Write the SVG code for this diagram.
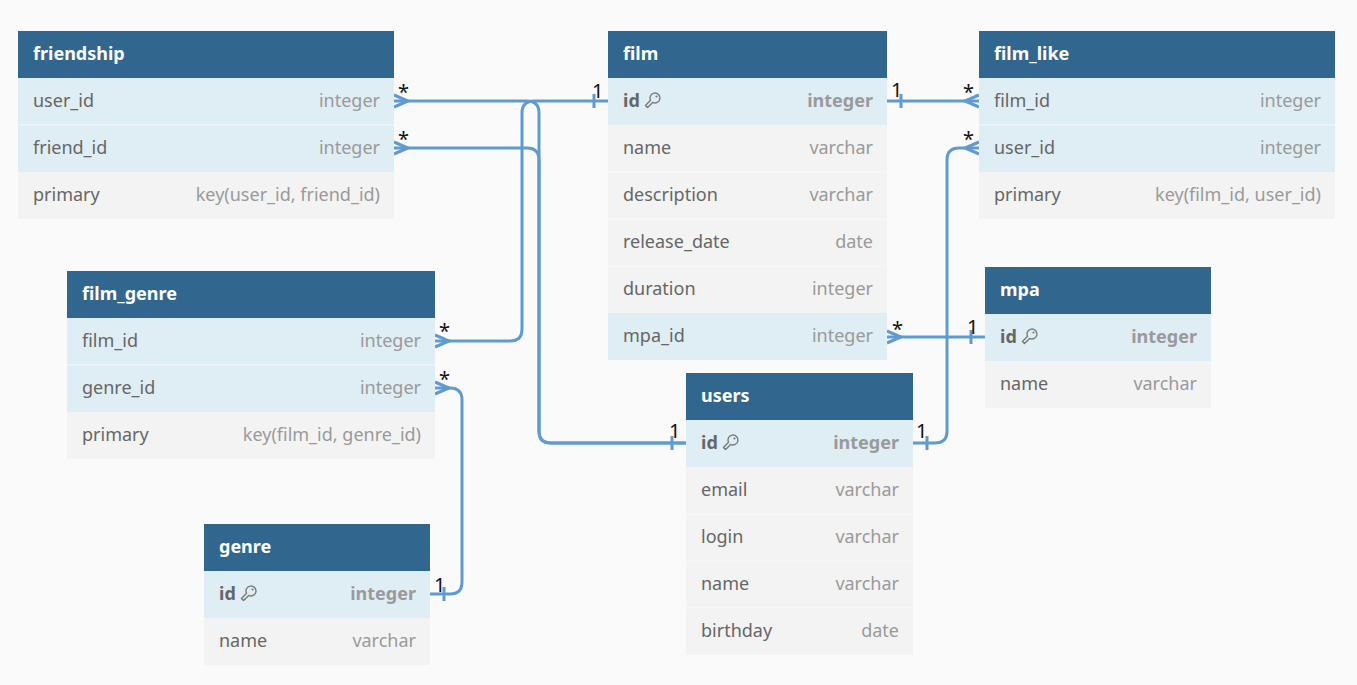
<svg xmlns="http://www.w3.org/2000/svg" xmlns:xlink="http://www.w3.org/1999/xlink" width="1357" height="685" viewBox="0 0 1357 685">
<defs>
<style>
.bg{fill:#fafafa}
.hd{fill:#31668f}
.rb{fill:#dfedf5}
.rg{fill:#f3f3f3}
.sep{stroke:#f8f8f8;stroke-width:1}
.tt{font-family:"Noto Sans","Open Sans",sans-serif;font-size:18px;font-weight:bold;fill:#ffffff}
.fn{font-family:"Noto Sans","Open Sans",sans-serif;font-size:18px;fill:#666666}
.ft{font-family:"Noto Sans","Open Sans",sans-serif;font-size:18px;fill:#9a9a9a;text-anchor:end}
.pk{font-weight:bold}
.ln{fill:none;stroke:#5f9bd0;stroke-width:3}
.lb{font-family:"Noto Sans","Open Sans",sans-serif;font-size:20px;fill:#111111}
.key{fill:none;stroke:#7a7a7a;stroke-width:1.4;stroke-linejoin:round}
</style>
<g id="keyicon">
<path class="key" d="M5.54,8.34 A5,5 0 1 1 7.66,10.46 L2.56,15.56 L0.44,13.44 Z"/>
<circle cx="11.5" cy="4.5" r="1.1" fill="#7a7a7a"/>
</g>
</defs>
<rect class="bg" x="0" y="0" width="1357" height="685"/>

<g id="connectors">
<path class="ln" d="M394,101 H527 Q539,101 539,113 V431 Q539,443 551,443 H686"/>
<path class="ln" d="M394,148 H527 Q539,148 539,160 V431 Q539,443 551,443 H686"/>
<path class="ln" d="M435,341 H510 Q522,341 522,329 V113 Q522,101 534,101 H608"/>
<path class="ln" d="M887,101 H979"/>
<path class="ln" d="M913,443 H935 Q947,443 947,431 V160 Q947,148 959,148 H979"/>
<path class="ln" d="M887,337 H985"/>
<path class="ln" d="M435,388 H450 Q462,388 462,400 V582 Q462,594 450,594 H430"/>
<path class="ln" d="M394,95 L408,101 L394,107"/>
<path class="ln" d="M394,142 L408,148 L394,154"/>
<path class="ln" d="M435,335 L449,341 L435,347"/>
<path class="ln" d="M435,382 L449,388 L435,394"/>
<path class="ln" d="M979,95 L965,101 L979,107"/>
<path class="ln" d="M979,142 L965,148 L979,154"/>
<path class="ln" d="M887,331 L901,337 L887,343"/>
<path class="ln" d="M594,94 V108"/>
<path class="ln" d="M901,94 V108"/>
<path class="ln" d="M672,436 V450"/>
<path class="ln" d="M927,436 V450"/>
<path class="ln" d="M971,330 V344"/>
<path class="ln" d="M444,587 V601"/>
<text class="lb" x="398" y="99">*</text>
<text class="lb" x="398" y="146">*</text>
<text class="lb" x="592" y="98">1</text>
<text class="lb" x="891" y="97">1</text>
<text class="lb" x="963" y="99">*</text>
<text class="lb" x="963" y="146">*</text>
<text class="lb" x="892" y="336">*</text>
<text class="lb" x="967" y="334">1</text>
<text class="lb" x="669" y="438">1</text>
<text class="lb" x="916" y="438">1</text>
<text class="lb" x="439" y="338">*</text>
<text class="lb" x="439" y="386">*</text>
<text class="lb" x="434" y="592">1</text>
</g>

<g id="friendship">
<rect class="hd" x="18" y="31" width="376" height="47"/>
<text class="tt" x="33" y="60">friendship</text>
<rect class="rb" x="18" y="78" width="376" height="47"/>
<rect class="rb" x="18" y="125" width="376" height="47"/>
<rect class="rg" x="18" y="172" width="376" height="47"/>
<line class="sep" x1="18" y1="125" x2="394" y2="125"/>
<text class="fn" x="33" y="107">user_id</text><text class="ft" x="380" y="107">integer</text>
<text class="fn" x="33" y="154">friend_id</text><text class="ft" x="380" y="154">integer</text>
<text class="fn" x="33" y="201">primary</text><text class="ft" x="380" y="201">key(user_id, friend_id)</text>
</g>

<g id="film">
<rect class="hd" x="608" y="31" width="279" height="47"/>
<text class="tt" x="623" y="60">film</text>
<rect class="rb" x="608" y="78" width="279" height="47"/>
<rect class="rg" x="608" y="125" width="279" height="188"/>
<rect class="rb" x="608" y="313" width="279" height="47"/>
<line class="sep" x1="608" y1="172" x2="887" y2="172"/>
<line class="sep" x1="608" y1="219" x2="887" y2="219"/>
<line class="sep" x1="608" y1="266" x2="887" y2="266"/>
<text class="fn pk" x="623" y="107">id</text><use xlink:href="#keyicon" x="645" y="92"/><text class="ft pk" x="873" y="107">integer</text>
<text class="fn" x="623" y="154">name</text><text class="ft" x="873" y="154">varchar</text>
<text class="fn" x="623" y="201">description</text><text class="ft" x="873" y="201">varchar</text>
<text class="fn" x="623" y="248">release_date</text><text class="ft" x="873" y="248">date</text>
<text class="fn" x="623" y="295">duration</text><text class="ft" x="873" y="295">integer</text>
<text class="fn" x="623" y="342">mpa_id</text><text class="ft" x="873" y="342">integer</text>
</g>

<g id="film_like">
<rect class="hd" x="979" y="31" width="356" height="47"/>
<text class="tt" x="994" y="60">film_like</text>
<rect class="rb" x="979" y="78" width="356" height="47"/>
<rect class="rb" x="979" y="125" width="356" height="47"/>
<rect class="rg" x="979" y="172" width="356" height="47"/>
<line class="sep" x1="979" y1="125" x2="1335" y2="125"/>
<text class="fn" x="994" y="107">film_id</text><text class="ft" x="1321" y="107">integer</text>
<text class="fn" x="994" y="154">user_id</text><text class="ft" x="1321" y="154">integer</text>
<text class="fn" x="994" y="201">primary</text><text class="ft" x="1321" y="201">key(film_id, user_id)</text>
</g>

<g id="film_genre">
<rect class="hd" x="67" y="271" width="368" height="47"/>
<text class="tt" x="82" y="300">film_genre</text>
<rect class="rb" x="67" y="318" width="368" height="47"/>
<rect class="rb" x="67" y="365" width="368" height="47"/>
<rect class="rg" x="67" y="412" width="368" height="47"/>
<line class="sep" x1="67" y1="365" x2="435" y2="365"/>
<text class="fn" x="82" y="347">film_id</text><text class="ft" x="421" y="347">integer</text>
<text class="fn" x="82" y="394">genre_id</text><text class="ft" x="421" y="394">integer</text>
<text class="fn" x="82" y="441">primary</text><text class="ft" x="421" y="441">key(film_id, genre_id)</text>
</g>

<g id="mpa">
<rect class="hd" x="985" y="267" width="226" height="47"/>
<text class="tt" x="1000" y="296">mpa</text>
<rect class="rb" x="985" y="314" width="226" height="47"/>
<rect class="rg" x="985" y="361" width="226" height="47"/>
<text class="fn pk" x="1000" y="343">id</text><use xlink:href="#keyicon" x="1022" y="328"/><text class="ft pk" x="1197" y="343">integer</text>
<text class="fn" x="1000" y="390">name</text><text class="ft" x="1197" y="390">varchar</text>
</g>

<g id="users">
<rect class="hd" x="686" y="373" width="227" height="47"/>
<text class="tt" x="701" y="402">users</text>
<rect class="rb" x="686" y="420" width="227" height="47"/>
<rect class="rg" x="686" y="467" width="227" height="188"/>
<line class="sep" x1="686" y1="514" x2="913" y2="514"/>
<line class="sep" x1="686" y1="561" x2="913" y2="561"/>
<line class="sep" x1="686" y1="608" x2="913" y2="608"/>
<text class="fn pk" x="701" y="449">id</text><use xlink:href="#keyicon" x="723" y="434"/><text class="ft pk" x="899" y="449">integer</text>
<text class="fn" x="701" y="496">email</text><text class="ft" x="899" y="496">varchar</text>
<text class="fn" x="701" y="543">login</text><text class="ft" x="899" y="543">varchar</text>
<text class="fn" x="701" y="590">name</text><text class="ft" x="899" y="590">varchar</text>
<text class="fn" x="701" y="637">birthday</text><text class="ft" x="899" y="637">date</text>
</g>

<g id="genre">
<rect class="hd" x="204" y="524" width="226" height="47"/>
<text class="tt" x="219" y="553">genre</text>
<rect class="rb" x="204" y="571" width="226" height="47"/>
<rect class="rg" x="204" y="618" width="226" height="47"/>
<text class="fn pk" x="219" y="600">id</text><use xlink:href="#keyicon" x="241" y="585"/><text class="ft pk" x="416" y="600">integer</text>
<text class="fn" x="219" y="647">name</text><text class="ft" x="416" y="647">varchar</text>
</g>
</svg>
